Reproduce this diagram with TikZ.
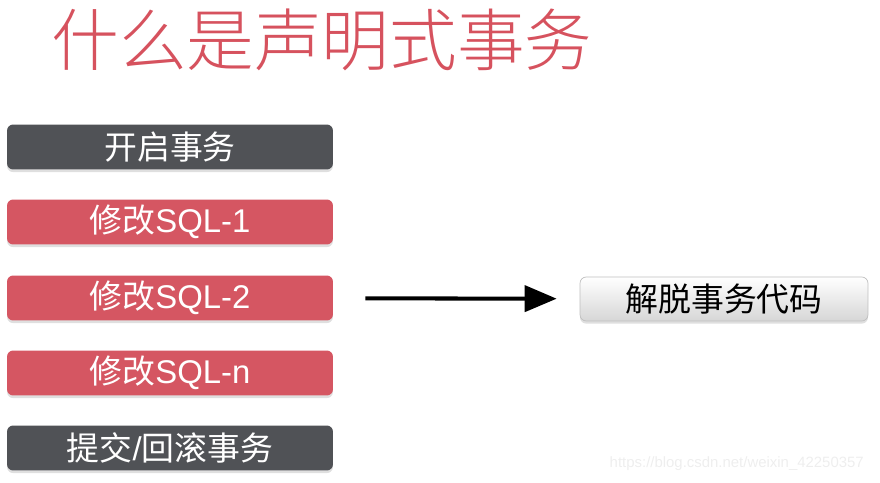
\documentclass[tikz,border=0pt]{standalone}
\usepackage{fontspec}
\setmainfont{Liberation Sans}
\newfontfamily\cjk{Noto Sans CJK SC}
\newfontfamily\cjklight{Noto Sans CJK SC Light}
\usetikzlibrary{arrows.meta,shadows}
\definecolor{titlered}{RGB}{214,82,94}
\definecolor{sqlred}{RGB}{213,86,98}
\definecolor{txgray}{RGB}{80,82,86}
\definecolor{markgray}{RGB}{238,238,238}
\newcommand\latin[1]{{\rmfamily #1}}
\tikzset{
  txbox/.style={rounded corners=3.5pt, minimum width=6.52cm, minimum height=0.9cm,
    inner sep=0pt, text=white, font=\cjk\fontsize{18.7}{20}\selectfont,
    drop shadow={opacity=0.25, shadow xshift=0pt, shadow yshift=-1.5pt}},
  graybox/.style={txbox, fill=txgray},
  redbox/.style={txbox, fill=sqlred},
  plainbox/.style={txbox, minimum width=5.76cm, minimum height=0.88cm, text=black,
    top color=white, bottom color=black!16, draw=black!25, line width=0.4pt},
  flow/.style={-{Triangle[length=0.64cm,width=0.52cm]}, line width=2.3pt,
    shorten <=0.64cm, shorten >=0.46cm}
}
\begin{document}
\begin{tikzpicture}[x=0.02cm,y=-0.02cm]
\useasboundingbox (0,0) rectangle (880,483);
\node[text=titlered, font=\cjklight\fontsize{38.5}{40}\selectfont] (title) at (322,40) {什么是声明式事务};
\node[graybox] (begin) at (170,147) {开启事务};
\node[redbox] (sql1) at (170,222) {修改\latin{SQL-1}};
\node[redbox] (sql2) at (170,298) {修改\latin{SQL-2}};
\node[redbox] (sqln) at (170,373) {修改\latin{SQL-n}};
\node[graybox] (commit) at (170,448) {提交\latin{/}回滚事务};
\node[plainbox] (free) at (724,299) {解脱事务代码};
\draw[flow] (sql2) -- (free);
\node[text=markgray, font=\fontsize{8.5}{10}\selectfont, anchor=east] (mark) at (870,464) {https://blog.csdn.net/weixin\_42250357};
\end{tikzpicture}
\end{document}
